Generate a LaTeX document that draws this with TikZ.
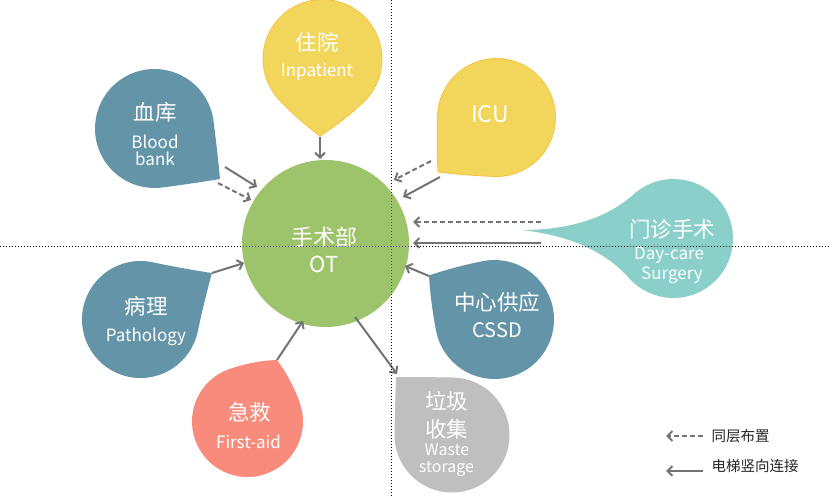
\documentclass[tikz,border=0pt]{standalone}
\usepackage{fontspec}
\setmainfont{Noto Sans CJK SC}
\usetikzlibrary{arrows.meta}
\definecolor{otgreen}{HTML}{9DC36B}
\definecolor{slate}{HTML}{6494A8}
\definecolor{sun}{HTML}{F2D65B}
\definecolor{sunline}{HTML}{F7C241}
\definecolor{aqua}{HTML}{8BCFCB}
\definecolor{coral}{HTML}{F88B7B}
\definecolor{ash}{HTML}{BFBFBF}
\definecolor{arrgray}{HTML}{737373}
\definecolor{guidepurple}{HTML}{6A3FC8}
% teardrop: cx, cy (image px, y down), radius, tip angle (deg, canvas), tip factor, style
\newcommand\drop[6]{%
  \begin{scope}[shift={(#1,-#2)}, rotate=#4-45]
    \path[#6] (0,#3) arc[start angle=90, end angle=360, radius=#3pt]
      .. controls (#3,{#5*#3/3}) and ({(#5+2)*#3/3},{2*#5*#3/3}) .. ({#5*#3},{#5*#3})
      .. controls ({2*#5*#3/3},{(#5+2)*#3/3}) and ({#5*#3/3},#3) .. (0,#3) -- cycle;
  \end{scope}}
\tikzset{
  zh/.style={text=white, font=\fontsize{21.5}{24}\selectfont, inner sep=0pt},
  en/.style={text=white, font=\fontsize{17}{19}\selectfont, inner sep=0pt, anchor=base},
  link/.style={draw=arrgray, line width=2pt, -{Straight Barb[length=5pt,width=10pt]}},
  samefloor/.style={link, dash pattern=on 5pt off 3pt},
  guide/.style={line width=1pt, dash pattern=on 1pt off 2pt},
  legendtext/.style={text=black!85, font=\fontsize{14.5}{16}\selectfont, inner sep=0pt, anchor=west},
}
\begin{document}
\begin{tikzpicture}[x=1pt, y=1pt]
\useasboundingbox (0,0) rectangle (829,-497);
\fill[white] (0,0) rectangle (829,-497);

% central circle
\fill[otgreen] (325.5,-243.5) circle[radius=83.5pt];

% drops
\drop{322.5}{59}{59.5}{-91.86}{0.916}{fill=sun, draw=sunline, line width=0.8pt}
\drop{496.5}{117.5}{59}{-137.0}{0.958}{fill=sun, draw=sunline, line width=0.8pt}
\drop{154.5}{128.5}{59.5}{-37.63}{0.983}{fill=slate}
\drop{140.5}{319.5}{58.5}{33.04}{1.03}{fill=slate}
\drop{247.5}{421.5}{55.5}{64.4}{0.87}{fill=coral}
\drop{452}{435}{57.5}{134.0}{0.99}{fill=ash}
\drop{494.5}{319.5}{59.5}{146.1}{0.938}{fill=slate}
\drop{673.5}{238.5}{59.5}{176.8}{1.803}{fill=aqua}

% texts
\node[zh, font=\fontsize{22}{24}\selectfont] (otzh) at (324,-237.5) {手术部};
\node[en, font=\fontsize{22}{24}\selectfont] (oten) at (324,-272) {OT};
\node[zh] (ipzh) at (317,-42) {住院};
\node[en] (ipen) at (317,-77) {Inpatient};
\node[en, font=\fontsize{23}{25}\selectfont] (icu) at (490,-123) {ICU};
\node[zh] (bbzh) at (155,-112.5) {血库};
\node[en] (bben1) at (155,-149) {Blood};
\node[en] (bben2) at (155,-166) {bank};
\node[zh] (pazh) at (146,-306) {病理};
\node[en] (paen) at (146,-341.5) {Pathology};
\node[zh] (fazh) at (249.5,-412.5) {急救};
\node[en] (faen) at (248.5,-448) {First-aid};
\node[zh] (wszh1) at (446.5,-401) {垃圾};
\node[zh] (wszh2) at (446.5,-429) {收集};
\node[en, font=\fontsize{16}{18}\selectfont] (wsen1) at (447,-455) {Waste};
\node[en, font=\fontsize{16}{18}\selectfont] (wsen2) at (446.5,-472) {storage};
\node[zh] (cszh) at (497,-302) {中心供应};
\node[en, font=\fontsize{20}{22}\selectfont] (csen) at (497,-337) {CSSD};
\node[zh] (dczh) at (672,-229) {门诊手术};
\node[en] (dcen1) at (669,-259) {Day-care};
\node[en] (dcen2) at (672,-279) {Surgery};

% connector end points
\coordinate (ipS) at (320,-137);   \coordinate (ipE) at (320,-159);
\coordinate (bbS) at (225,-167);   \coordinate (bbE) at (257,-187);
\coordinate (bbDS) at (218,-183);  \coordinate (bbDE) at (251,-200);
\coordinate (icDS) at (431,-161);  \coordinate (icDE) at (394,-180);
\coordinate (icS) at (440,-177);   \coordinate (icE) at (403,-197);
\coordinate (dcDS) at (541,-222);  \coordinate (dcDE) at (413,-222);
\coordinate (dcS) at (541,-243);   \coordinate (dcE) at (413,-243);
\coordinate (csS) at (429,-276);   \coordinate (csE) at (405,-266);
\coordinate (paS) at (212,-273);   \coordinate (paE) at (244,-263);
\coordinate (faS) at (277,-360);   \coordinate (faE) at (303,-321);
\coordinate (wsS) at (355,-317);   \coordinate (wsE) at (397,-374);

\draw[link] (ipS) -- (ipE);
\draw[link] (bbS) -- (bbE);
\draw[samefloor] (bbDS) -- (bbDE);
\draw[samefloor] (icDS) -- (icDE);
\draw[link] (icS) -- (icE);
\draw[samefloor] (dcDS) -- (dcDE);
\draw[link] (dcS) -- (dcE);
\draw[link] (csS) -- (csE);
\draw[link] (paS) -- (paE);
\draw[link] (faS) -- (faE);
\draw[link] (wsS) -- (wsE);

% legend
\coordinate (lg1S) at (703,-436); \coordinate (lg1E) at (666,-436);
\coordinate (lg2S) at (703,-471); \coordinate (lg2E) at (666,-471);
\draw[samefloor] (lg1S) -- (lg1E);
\draw[link] (lg2S) -- (lg2E);
\node[legendtext] (lgt1) at (711.5,-436.5) {同层布置};
\node[legendtext] (lgt2) at (711.5,-466) {电梯竖向连接};

% guide lines
\coordinate (gvT) at (391,0); \coordinate (gvB) at (391,-497);
\coordinate (ghL) at (0,-246); \coordinate (ghR) at (829,-246);
\draw[guide, black] (gvT) -- (gvB);
\draw[guide, black] (ghL) -- (ghR);
\begin{scope}
  \clip (325.5,-243.5) circle[radius=83.5pt];
  \draw[guide, guidepurple] (gvT) -- (gvB);
  \draw[guide, guidepurple] (ghL) -- (ghR);
\end{scope}
\end{tikzpicture}
\end{document}
